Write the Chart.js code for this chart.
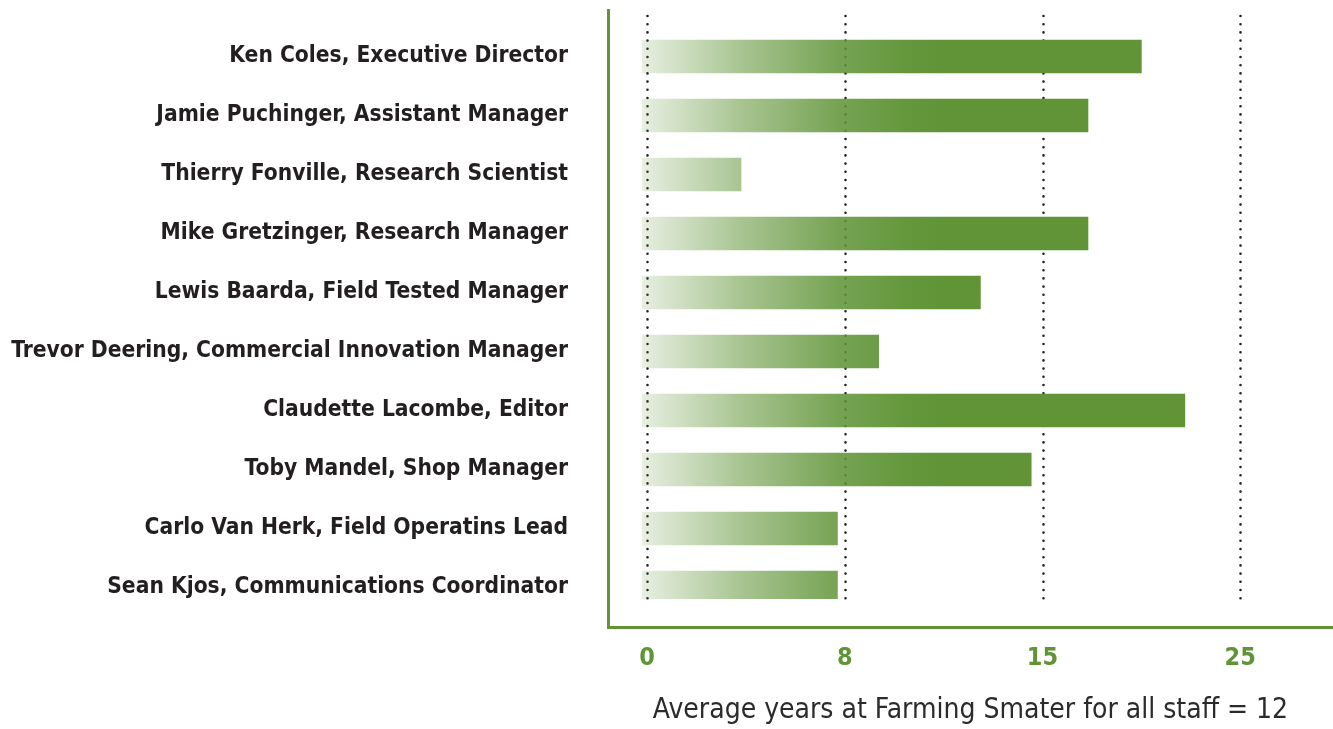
<!DOCTYPE html>
<html lang="en">
<head>
  <meta charset="UTF-8">
  <title>Years at Farming Smarter</title>
  <script src="https://cdn.jsdelivr.net/npm/chart.js"></script>
  <style>
    * { margin: 0; padding: 0; box-sizing: border-box; }
    body { background: #ffffff; width: 1333px; height: 729px; overflow: hidden; }
    canvas { display: block; }
  </style>
</head>
<body>
  <canvas id="staffChart" width="1333" height="729"></canvas>

  <script>
    // staff, top to bottom
    const staff = [
      'Ken Coles, Executive Director',
      'Jamie Puchinger, Assistant Manager',
      'Thierry Fonville, Research Scientist',
      'Mike Gretzinger, Research Manager',
      'Lewis Baarda, Field Tested Manager',
      'Trevor Deering, Commercial Innovation Manager',
      'Claudette Lacombe, Editor',
      'Toby Mandel, Shop Manager',
      'Carlo Van Herk, Field Operatins Lead',
      'Sean Kjos, Communications Coordinator'
    ];
    // years at the organisation
    const years = [20, 17.3, 3.8, 17.3, 12.8, 9.2, 22.2, 14.6, 7.7, 7.7];
    // axis breaks, drawn evenly spaced like the original
    const tickYears = [0, 8, 15, 25];
    const axisTitle = 'Average years at Farming Smater for all staff = 12';

    const green = '#609437';
    const labelFont = "'DejaVu Sans', sans-serif";

    // x scale where each break gets the same width
    class BreakScale extends Chart.LinearScale {
      determineDataLimits() {
        this.min = tickYears[0];
        this.max = tickYears[tickYears.length - 1];
      }
      buildTicks() {
        return tickYears.map(v => ({ value: v }));
      }
      _frac(v) {
        const n = tickYears.length - 1;
        let i = 0;
        while (i < n - 1 && v > tickYears[i + 1]) i++;
        const t = i + (v - tickYears[i]) / (tickYears[i + 1] - tickYears[i]);
        const o = this.options;
        return o.padStart + (1 - o.padStart - o.padEnd) * t / n;
      }
      getPixelForValue(v) {
        return this.getPixelForDecimal(this._frac(v));
      }
      getValueForPixel(p) {
        const o = this.options;
        const n = tickYears.length - 1;
        const t = (this.getDecimalForPixel(p) - o.padStart) / (1 - o.padStart - o.padEnd) * n;
        const i = Math.max(0, Math.min(n - 1, Math.floor(t)));
        return tickYears[i] + (t - i) * (tickYears[i + 1] - tickYears[i]);
      }
    }
    BreakScale.id = 'breaks';
    BreakScale.defaults = {};
    Chart.register(BreakScale);

    // dotted vertical guides, stopping short of the axis
    const dottedGuides = {
      id: 'dottedGuides',
      beforeDatasetsDraw(chart) {
        const { ctx, scales: { x } } = chart;
        ctx.save();
        ctx.strokeStyle = '#222222';
        ctx.lineWidth = 2.6;
        ctx.lineCap = 'round';
        ctx.setLineDash([0, 8.2]);
        tickYears.forEach(v => {
          const px = Math.round(x.getPixelForValue(v)) + 0.5;
          ctx.beginPath();
          ctx.moveTo(px, 16);
          ctx.lineTo(px, 599);
          ctx.stroke();
        });
        ctx.restore();
      }
    };

    function barFill(context) {
      const chart = context.chart;
      if (!chart.chartArea) return green;
      const x = chart.scales.x;
      const x0 = x.getPixelForValue(-0.2);
      const x1 = x.getPixelForValue(11.5);
      const g = chart.ctx.createLinearGradient(x0, 0, x1, 0);
      g.addColorStop(0, 'rgba(96,148,55,0.15)');
      g.addColorStop(0.33, 'rgba(96,148,55,0.55)');
      g.addColorStop(0.65, 'rgba(96,148,55,0.86)');
      g.addColorStop(0.87, 'rgba(96,148,55,0.97)');
      g.addColorStop(1, 'rgba(96,148,55,1)');
      return g;
    }

    const ctx = document.getElementById('staffChart').getContext('2d');
    new Chart(ctx, {
      type: 'bar',
      data: {
        datasets: [{
          label: 'Years',
          data: years.map((v, i) => ({ x: v, y: i })),
          backgroundColor: barFill,
          borderWidth: 0,
          barThickness: 33,
          base: -0.2,
          // last bar is cut where the guides end, as in the original
          clip: { left: 0, top: 0, right: 0, bottom: -28 }
        }]
      },
      plugins: [dottedGuides],
      options: {
        indexAxis: 'y',
        responsive: false,
        animation: false,
        layout: { padding: { top: 10, right: 0, left: 0, bottom: 0 } },
        plugins: {
          legend: { display: false },
          tooltip: { enabled: false }
        },
        scales: {
          x: {
            type: 'breaks',
            position: 'bottom',
            padStart: 0.054,
            padEnd: 0.128,
            grid: { display: false, drawTicks: false },
            border: { display: true, color: green, width: 3 },
            ticks: {
              padding: 16,
              color: green,
              font: { family: labelFont, weight: 'bold condensed', size: 25 },
              callback: v => String(v)
            },
            title: {
              display: true,
              text: axisTitle,
              color: '#2b2b2b',
              font: { family: labelFont, weight: 'normal condensed', size: 28 },
              padding: { top: 0, bottom: 1 }
            },
            afterFit: s => { s.height = 102; }
          },
          y: {
            type: 'linear',
            reverse: true,
            offset: false,
            min: -0.788,
            max: 9.67,
            grid: { display: false, drawTicks: false },
            border: { display: true, color: green, width: 3 },
            afterBuildTicks: s => { s.ticks = staff.map((_, i) => ({ value: i })); },
            ticks: {
              padding: 40,
              color: '#231f20',
              font: { family: labelFont, weight: 'bold condensed', size: 22.6 },
              callback: v => staff[v]
            },
            afterFit: s => {
              s.width = 608;
              s.paddingTop = 0;
              s.paddingBottom = 0;
            }
          }
        }
      }
    });
  </script>
</body>
</html>
